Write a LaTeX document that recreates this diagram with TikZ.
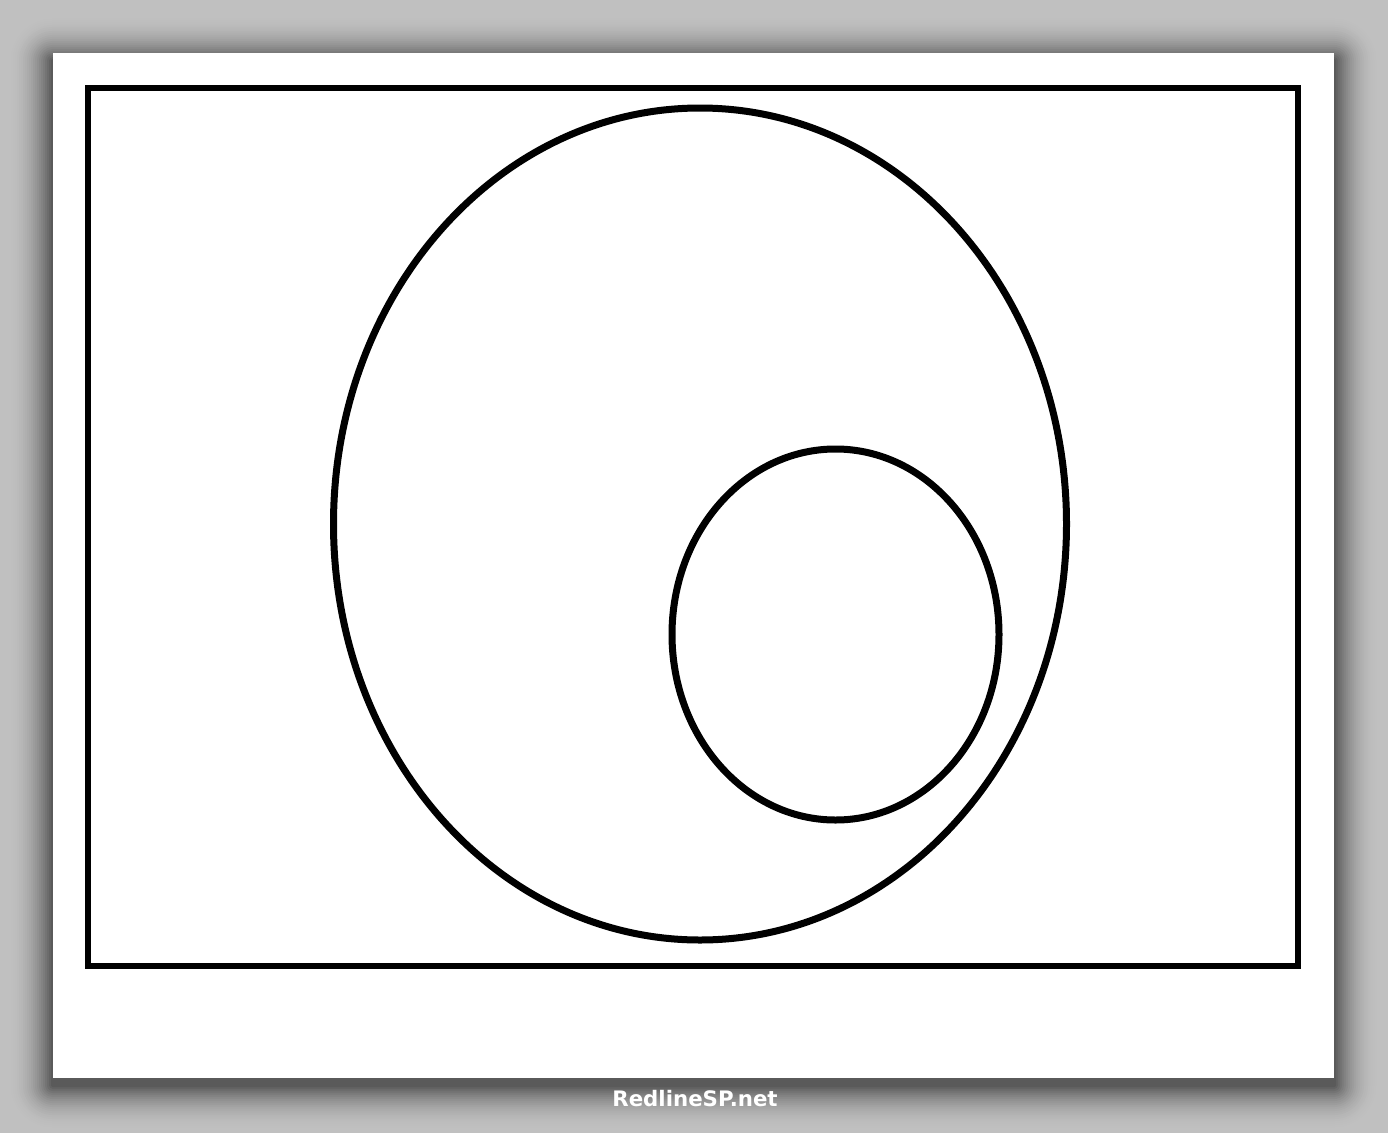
\documentclass[tikz,border=0pt]{standalone}
\usepackage{fontspec}
\newfontfamily\markfont{DejaVu Sans}
\definecolor{backgray}{HTML}{C0C0C0}

\begin{document}
\begin{tikzpicture}[x=1pt,y=-1pt,line join=miter]
    \useasboundingbox (0,0) rectangle (1388,1132);
    \fill[backgray] (-10,-10) rectangle (1398,1142);
    % shadow of the page, lightest ring first
    \foreach \i in {46,44,...,2} {
      \pgfmathsetmacro{\p}{100-58*(1-\i/46)^2}
      \fill[backgray!\p!black,rounded corners=\i] (53-\i,61-\i) rectangle (1334+\i,1085+\i);
    }
    \fill[white] (53,53) rectangle (1334,1078);
    % frame and the two sets
    \coordinate (A0) at (88,88);
    \coordinate (A1) at (1298,966);
    \coordinate (B) at (700,524);
    \coordinate (C) at (835.5,634.5);
    \draw[line width=6] (A0) rectangle (A1);
    \draw[line width=7] (B) ellipse [x radius=366.5,y radius=416];
    \draw[line width=7] (C) ellipse [x radius=163.5,y radius=185.5];
    \node[white,font=\markfont\bfseries\fontsize{21.3}{25}\selectfont] (mark) at (695,1099) {RedlineSP.net};
  \end{tikzpicture}
\end{document}
